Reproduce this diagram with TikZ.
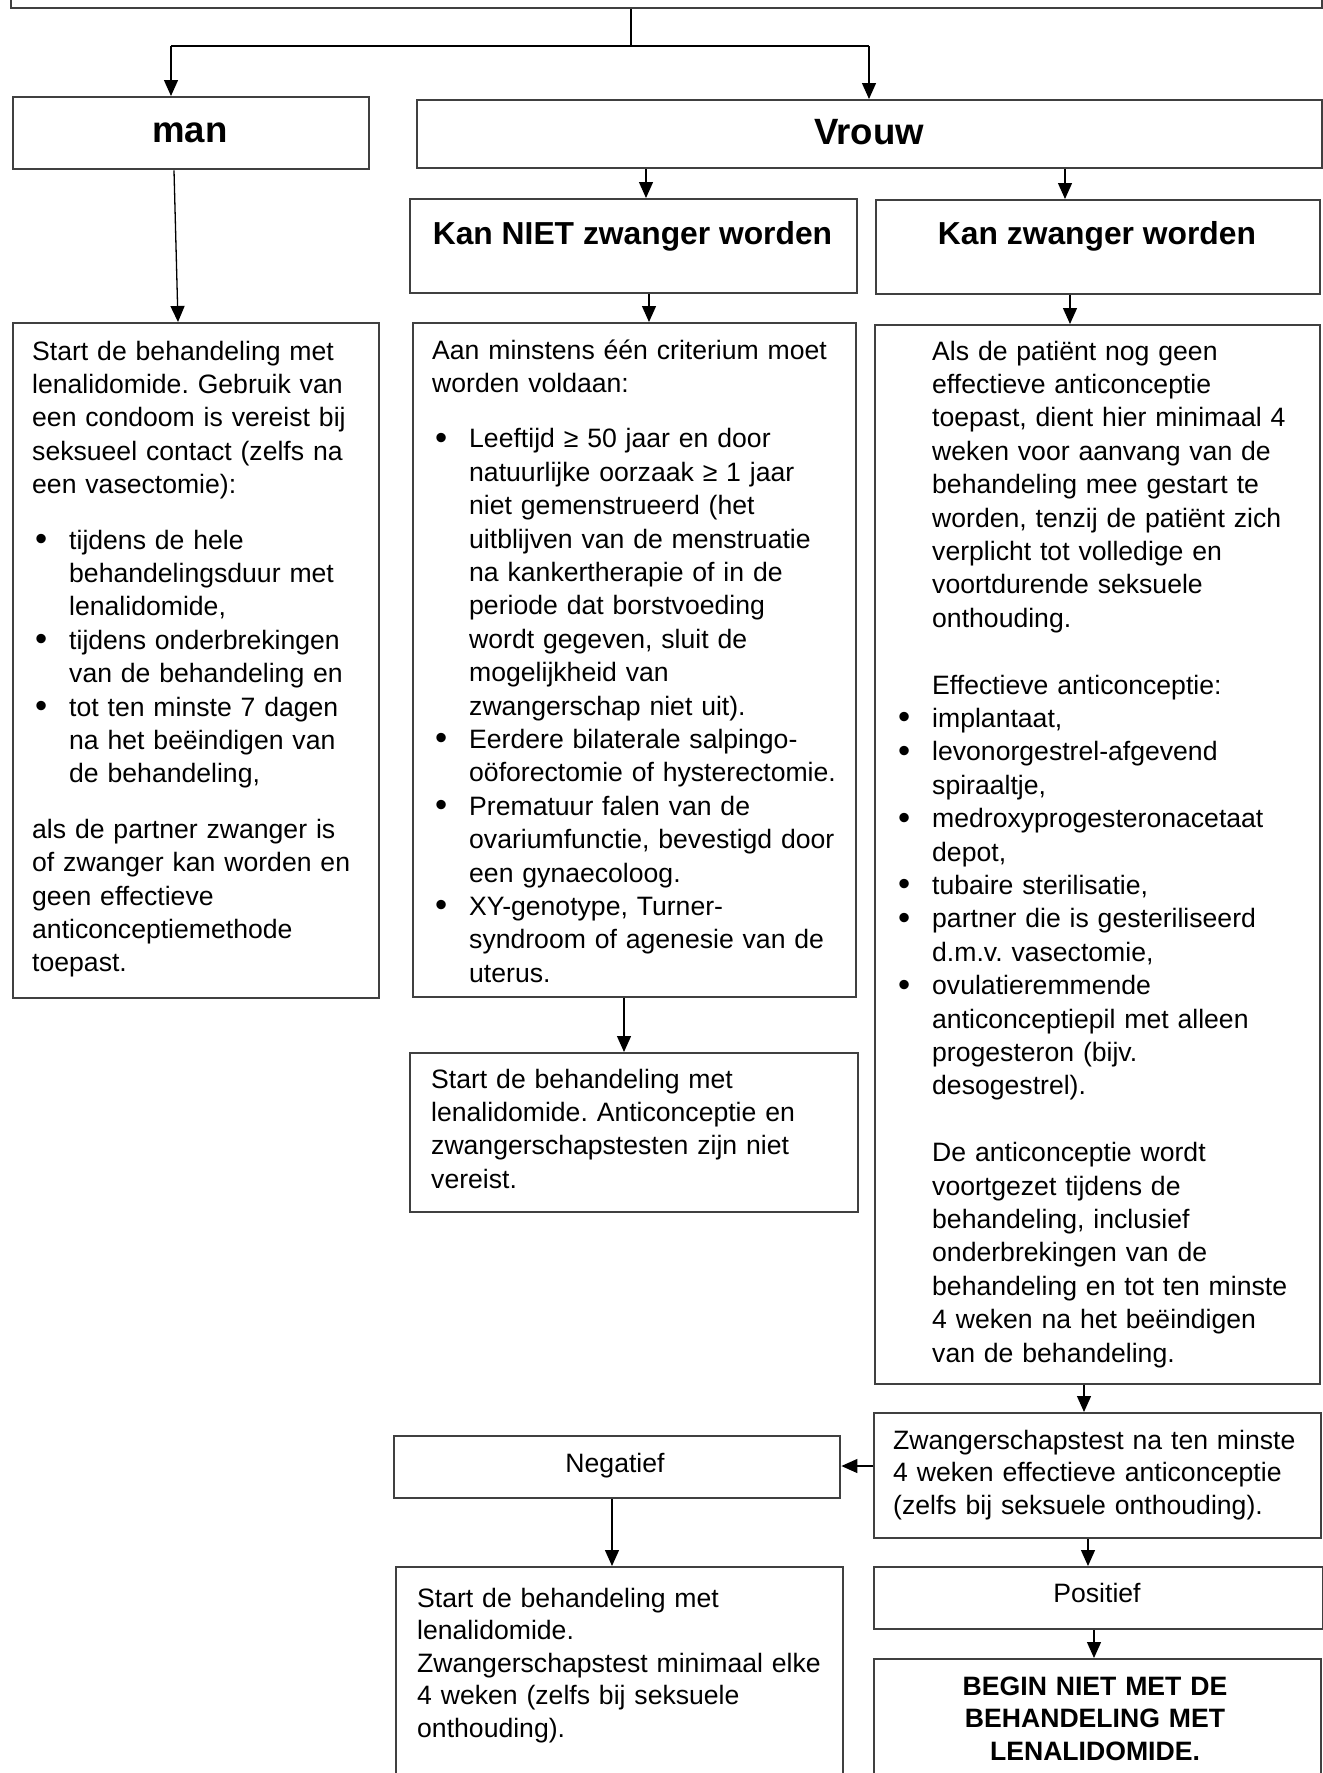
\documentclass[tikz,border=0pt]{standalone}
\usepackage{fontspec}
\usepackage{graphicx}
\setmainfont{Liberation Sans}
\usetikzlibrary{arrows.meta}
\definecolor{boxgray}{RGB}{64,64,64}
\frenchspacing
\newcommand{\bigdot}{\raisebox{-1.5pt}{\scalebox{1.3}{\textbullet}}}
\newcommand{\mybul}{\hspace*{3pt}\makebox[34pt][l]{\bigdot}}
\newcommand{\myind}{\hspace*{37pt}}
\newcommand{\mybulz}{\makebox[34pt][l]{\bigdot}}
\newcommand{\myindz}{\hspace*{34pt}}
\begin{document}
\begin{tikzpicture}[x=1pt,y=-1pt,
  box/.style={draw=boxgray, line width=2.4pt, rectangle, inner sep=0pt, anchor=north west},
  body/.style={inner sep=0pt, anchor=base west, text width=440pt, align=left, font=\fontsize{26.6}{33.4}\selectfont},
  bodyb/.style={body, font=\fontsize{26.6}{32.6}\selectfont},
  hdrA/.style={inner sep=0pt, anchor=base, font=\bfseries\fontsize{36.6}{40}\selectfont},
  hdrB/.style={inner sep=0pt, anchor=base, font=\bfseries\fontsize{31.8}{36}\selectfont},
  lbl/.style={inner sep=0pt, anchor=base, font=\fontsize{26.6}{32.6}\selectfont},
  warn/.style={inner sep=0pt, anchor=base, text width=440pt, align=center, font=\bfseries\fontsize{26.6}{32.6}\selectfont},
  conn/.style={draw=black, line width=1.3pt},
  arr/.style={conn, -{Triangle[length=16pt,width=14pt]}}]
\useasboundingbox (0,0) rectangle (1323,1773);
\fill[white] (0,0) rectangle (1323,1773);
\clip (0,0) rectangle (1323,1773);

% boxes
\node[box, minimum width=1311pt, minimum height=67pt] (top) at (10,-60) {};
\node[box, minimum width=356pt, minimum height=72pt] (man) at (12,96) {};
\node[box, minimum width=905pt, minimum height=68pt] (vrouw) at (416,99) {};
\node[box, minimum width=447pt, minimum height=94pt] (kanniet) at (409,198) {};
\node[box, minimum width=444pt, minimum height=94pt] (kan) at (875,199) {};
\node[box, minimum width=366pt, minimum height=675pt] (mantext) at (12,322) {};
\node[box, minimum width=443pt, minimum height=674pt] (niettext) at (412,322) {};
\node[box, minimum width=445pt, minimum height=1059pt] (kantext) at (874,324) {};
\node[box, minimum width=448pt, minimum height=159pt] (start1) at (409,1052) {};
\node[box, minimum width=447pt, minimum height=125pt] (ztest) at (873,1412) {};
\node[box, minimum width=446pt, minimum height=62pt] (neg) at (393,1435) {};
\node[box, minimum width=447pt, minimum height=240pt] (start2) at (395,1566) {};
\node[box, minimum width=449pt, minimum height=62pt] (pos) at (873,1566) {};
\node[box, minimum width=447pt, minimum height=150pt] (begin) at (873,1658) {};

% headers
\node[hdrA] (manT) at (190,142) {man};
\node[hdrA] (vrouwT) at (869,144) {Vrouw};
\node[hdrB] (kannietT) at (632.5,244) {Kan NIET zwanger worden};
\node[hdrB] (kanT) at (1097,244) {Kan zwanger worden};

% body texts
\node[body] (manB) at (32,360) {Start de behandeling met\\
lenalidomide. Gebruik van\\
een condoom is vereist bij\\
seksueel contact (zelfs na\\
een vasectomie):\\[22pt]
\mybul tijdens de hele\\
\myind behandelingsduur met\\
\myind lenalidomide,\\
\mybul tijdens onderbrekingen\\
\myind van de behandeling en\\
\mybul tot ten minste 7 dagen\\
\myind na het beëindigen van\\
\myind de behandeling,\\[22pt]
als de partner zwanger is\\
of zwanger kan worden en\\
geen effectieve\\
anticonceptiemethode\\
toepast.};

\node[body] (nietB) at (432,359) {Aan minstens één criterium moet\\
worden voldaan:\\[22pt]
\mybul Leeftijd ≥ 50 jaar en door\\
\myind natuurlijke oorzaak ≥ 1 jaar\\
\myind niet gemenstrueerd (het\\
\myind uitblijven van de menstruatie\\
\myind na kankertherapie of in de\\
\myind periode dat borstvoeding\\
\myind wordt gegeven, sluit de\\
\myind mogelijkheid van\\
\myind zwangerschap niet uit).\\
\mybul Eerdere bilaterale salpingo-\\
\myind oöforectomie of hysterectomie.\\
\mybul Prematuur falen van de\\
\myind ovariumfunctie, bevestigd door\\
\myind een gynaecoloog.\\
\mybul XY-genotype, Turner-\\
\myind syndroom of agenesie van de\\
\myind uterus.};

\node[body] (kanB) at (898,360) {\myindz Als de patiënt nog geen\\
\myindz effectieve anticonceptie\\
\myindz toepast, dient hier minimaal 4\\
\myindz weken voor aanvang van de\\
\myindz behandeling mee gestart te\\
\myindz worden, tenzij de patiënt zich\\
\myindz verplicht tot volledige en\\
\myindz voortdurende seksuele\\
\myindz onthouding.\\[33.4pt]
\myindz Effectieve anticonceptie:\\
\mybulz implantaat,\\
\mybulz levonorgestrel-afgevend\\
\myindz spiraaltje,\\
\mybulz medroxyprogesteronacetaat\\
\myindz depot,\\
\mybulz tubaire sterilisatie,\\
\mybulz partner die is gesteriliseerd\\
\myindz d.m.v. vasectomie,\\
\mybulz ovulatieremmende\\
\myindz anticonceptiepil met alleen\\
\myindz progesteron (bijv.\\
\myindz desogestrel).\\[33.4pt]
\myindz De anticonceptie wordt\\
\myindz voortgezet tijdens de\\
\myindz behandeling, inclusief\\
\myindz onderbrekingen van de\\
\myindz behandeling en tot ten minste\\
\myindz 4 weken na het beëindigen\\
\myindz van de behandeling.};

\node[body] (start1B) at (431,1088) {Start de behandeling met\\
lenalidomide. Anticonceptie en\\
zwangerschapstesten zijn niet\\
vereist.};

\node[bodyb] (ztestB) at (893,1449) {Zwangerschapstest na ten minste\\
4 weken effectieve anticonceptie\\
(zelfs bij seksuele onthouding).};

\node[lbl] (negT) at (615,1472) {Negatief};
\node[lbl] (posT) at (1097,1602) {Positief};

\node[bodyb] (start2B) at (417,1607) {Start de behandeling met\\
lenalidomide.\\
Zwangerschapstest minimaal elke\\
4 weken (zelfs bij seksuele\\
onthouding).};

\node[warn] (beginT) at (1095,1695) {BEGIN NIET MET DE\\
BEHANDELING MET\\
LENALIDOMIDE.};

% connectors
\coordinate (j) at (631,46);
\coordinate (jl) at (171,46);
\coordinate (jr) at (869,46);
\draw[conn] (top.south -| j) -- (j);
\draw[conn] (jl) -- (jr);
\draw[arr] (jl) -- (jl |- man.north);
\draw[arr] (jr) -- (jr |- vrouw.north);
\coordinate (xa) at (646,0);
\coordinate (xb) at (1065,0);
\draw[arr] (vrouw.south -| xa) -- (kanniet.north -| xa);
\draw[arr] (vrouw.south -| xb) -- (kan.north -| xb);
\coordinate (xc1) at (174,0);
\coordinate (xc2) at (178,0);
\draw[arr] (man.south -| xc1) -- (mantext.north -| xc2);
\coordinate (xd) at (649,0);
\draw[arr] (kanniet.south -| xd) -- (niettext.north -| xd);
\coordinate (xe) at (1070,0);
\draw[arr] (kan.south -| xe) -- (kantext.north -| xe);
\coordinate (xf) at (624,0);
\draw[arr] (niettext.south -| xf) -- (start1.north -| xf);
\coordinate (xg) at (1084,0);
\draw[arr] (kantext.south -| xg) -- (ztest.north -| xg);
\coordinate (yh) at (0,1466);
\draw[arr] (ztest.west |- yh) -- (neg.east |- yh);
\coordinate (xi) at (612,0);
\draw[arr] (neg.south -| xi) -- (start2.north -| xi);
\coordinate (xk) at (1088,0);
\draw[arr] (ztest.south -| xk) -- (pos.north -| xk);
\coordinate (xl) at (1094,0);
\draw[arr] (pos.south -| xl) -- (begin.north -| xl);
\end{tikzpicture}
\end{document}
